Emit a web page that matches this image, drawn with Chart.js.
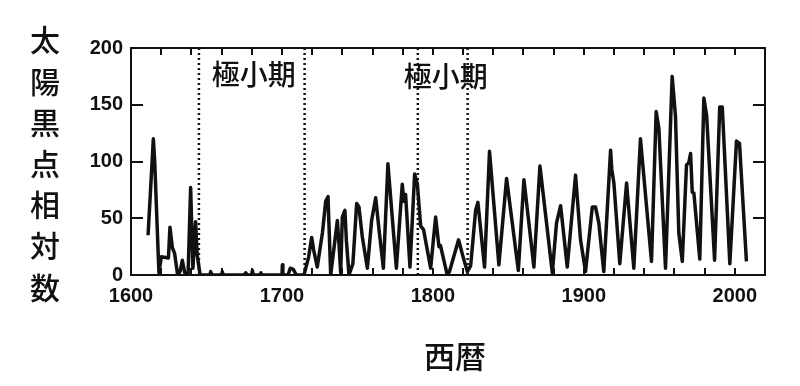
<!DOCTYPE html>
<html>
<head>
<meta charset="utf-8">
<script src="https://cdn.jsdelivr.net/npm/chart.js"></script>
<style>
  html, body { margin: 0; padding: 0; background: #fff; }
  #wrap { width: 800px; height: 386px; }
</style>
</head>
<body>
<div id="wrap"><canvas id="myChart" width="800" height="386"></canvas></div>
<script>
// sunspot series (year, relative number)
var annees = [1611.3, 1614.8, 1615.7, 1618.5, 1620.1, 1624.8, 1625.8, 1627.4, 1628.9, 1630.9,
  1632.5, 1634, 1635.6, 1637.8, 1639.5, 1641, 1642.8, 1643.8, 1645.8,
  1652.2, 1652.8, 1653.5, 1660, 1660.5, 1661, 1675, 1676, 1677, 1680, 1680.4, 1681,
  1685.5, 1686, 1686.5, 1700, 1700.3, 1700.6, 1704, 1705.5, 1707.5, 1709.5,
  1714.6, 1717.7, 1719.7, 1721, 1723.4, 1726.8, 1729, 1730.5, 1732.3,
  1736.7, 1737.9, 1738.9, 1740, 1741.7, 1742.7, 1744.4, 1747, 1749.5, 1751, 1753.2,
  1756.6, 1759.4, 1762.1, 1764.3, 1767.2, 1770.2, 1775.8, 1779.7, 1780.8, 1781.9,
  1784.8, 1787.9, 1789.7, 1791.9, 1793.8, 1798.5, 1801.8, 1804, 1805, 1809.5,
  1811, 1817, 1820, 1822.8, 1825, 1828.3, 1829.8, 1834.2, 1837.5, 1843.7,
  1848.8, 1851.5, 1856.6, 1860.3, 1866.9, 1870.9, 1879.1, 1881.9, 1884.6, 1889,
  1894.5, 1897.8, 1901.1, 1905.6, 1907.7, 1909.9, 1913.2, 1917.7, 1918.5, 1919.9,
  1923.8, 1928.3, 1933.1, 1937.5, 1944.8, 1947.9, 1949.7, 1954.1, 1958.5, 1960.7,
  1962.9, 1965.2, 1968, 1969.5, 1970.7, 1971.8, 1972.9, 1976.8, 1979.5, 1981.3,
  1986.6, 1990, 1991.7, 1996.7, 2001.1, 2003.1, 2007.7];
var valeurs = [35, 120, 100, 2, 16, 15, 42, 24, 19, 0,
  3, 13, 2, 0, 77, 6, 47, 18, 0,
  0, 3, 0, 0, 3, 0, 0, 2, 0, 0, 4, 0,
  0, 2, 0, 0, 9, 0, 0, 6, 5, 0,
  0, 16, 33, 22, 7, 37, 65, 69, 0,
  48, 25, 2, 51, 57, 30, 0, 10, 63, 60, 34,
  6, 48, 68, 40, 6, 98, 6, 80, 65, 71,
  7, 89, 80, 43, 40, 6, 51, 25, 26, 0,
  3, 31, 16, 3, 8, 57, 64, 7, 109, 9,
  85, 57, 4, 84, 7, 96, 2, 46, 61, 7,
  88, 31, 3, 60, 60, 46, 3, 110, 93, 81,
  10, 81, 6, 120, 12, 144, 129, 6, 175, 140,
  37, 12, 97, 99, 107, 73, 72, 14, 156, 141,
  13, 148, 148, 10, 118, 116, 12];

// minimum periods (dotted lines)
var minima = [1645, 1715, 1790, 1823];
var labelMinimum = '極小期';

var xTicks = { min: 1600, max: 2020, step: 20 };
var yTicks = { min: 0, max: 200, step: 50 };
var titreY = '太陽黒点相対数';
var titreX = '西暦';

var ctx = document.getElementById('myChart').getContext('2d');

var serie = annees.map(function (a, i) { return { x: a, y: valeurs[i] }; });

var datasets = [{
  data: serie,
  borderColor: '#111',
  borderWidth: 3.5,
  borderJoinStyle: 'round',
  pointRadius: 0,
  tension: 0
}];
minima.forEach(function (m) {
  datasets.push({
    data: [{ x: m, y: yTicks.min }, { x: m, y: yTicks.max }],
    borderColor: '#111',
    borderWidth: 2.5,
    borderDash: [2, 3],
    pointRadius: 0
  });
});

var cadre = {
  id: 'cadre',
  afterDatasetsDraw: function (chart) {
    var a = chart.chartArea;
    var sx = chart.scales.x, sy = chart.scales.y;
    var c = chart.ctx;
    c.save();
    c.strokeStyle = '#111';
    c.lineWidth = 2;
    c.strokeRect(a.left, a.top, a.right - a.left, a.bottom - a.top);
    c.beginPath();
    for (var v = xTicks.min + xTicks.step; v < xTicks.max; v += xTicks.step) {
      var px = Math.round(sx.getPixelForValue(v));
      c.moveTo(px, a.bottom); c.lineTo(px, a.bottom - 7);
      c.moveTo(px, a.top); c.lineTo(px, a.top + 7);
    }
    for (var w = yTicks.min + yTicks.step; w < yTicks.max; w += yTicks.step) {
      var py = Math.round(sy.getPixelForValue(w));
      c.moveTo(a.left, py); c.lineTo(a.left + 12, py);
      c.moveTo(a.right, py); c.lineTo(a.right - 12, py);
    }
    c.stroke();
    c.restore();
  },
  afterDraw: function (chart) {
    var c = chart.ctx;
    var sx = chart.scales.x, sy = chart.scales.y;
    c.save();
    c.fillStyle = '#111';
    c.textAlign = 'center';
    c.textBaseline = 'middle';
    // labels between the dotted lines
    c.font = '500 28px "Noto Sans CJK JP"';
    c.fillText(labelMinimum, sx.getPixelForValue((minima[0] + minima[1]) / 2) + 2, sy.getPixelForValue(177));
    c.fillText(labelMinimum, sx.getPixelForValue((minima[2] + minima[3]) / 2) + 3, sy.getPixelForValue(175));
    // vertical y title
    c.font = '500 30px "Noto Sans CJK JP"';
    for (var i = 0; i < titreY.length; i++) {
      c.fillText(titreY[i], 45, 40 + i * 41.2);
    }
    c.font = '500 31px "Noto Sans CJK JP"';
    c.fillText(titreX, 455, 356);
    c.restore();
  }
};

var monGraphe = new Chart(ctx, {
  type: 'line',
  data: { datasets: datasets },
  plugins: [cadre],
  options: {
    responsive: false,
    animation: false,
    devicePixelRatio: 1,
    layout: { padding: { top: 48, right: 35, left: 0, bottom: 0 } },
    plugins: { legend: { display: false }, tooltip: { enabled: false } },
    scales: {
      x: {
        type: 'linear',
        min: xTicks.min,
        max: xTicks.max,
        grid: { display: false, drawTicks: false },
        border: { display: false },
        afterFit: function (s) { s.height = 111; },
        ticks: {
          stepSize: xTicks.step,
          autoSkip: false,
          maxRotation: 0,
          padding: 9,
          color: '#111',
          font: { family: '"Liberation Sans"', size: 20, weight: 'bold' },
          callback: function (v) { return v % 100 === 0 ? String(v) : ''; }
        }
      },
      y: {
        min: yTicks.min,
        max: yTicks.max,
        grid: { display: false, drawTicks: false },
        border: { display: false },
        afterFit: function (s) { s.width = 131; },
        ticks: {
          stepSize: yTicks.step,
          padding: 8,
          color: '#111',
          font: { family: '"Liberation Sans"', size: 20, weight: 'bold' }
        }
      }
    }
  }
});
</script>
</body>
</html>
